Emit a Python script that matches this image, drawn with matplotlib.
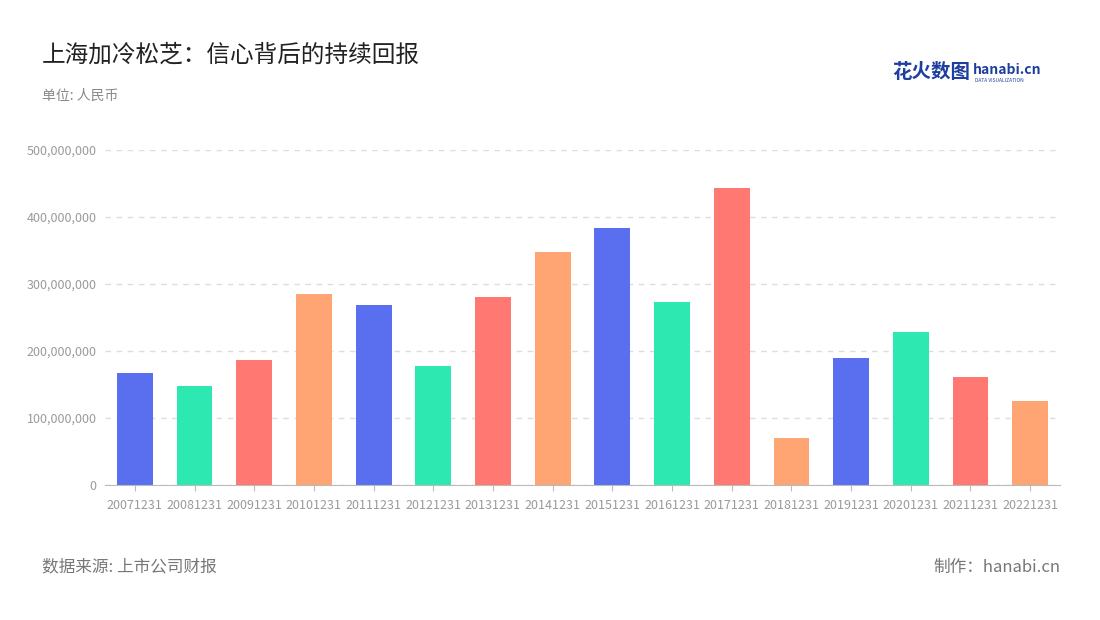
import matplotlib
matplotlib.use("Agg")
import matplotlib.pyplot as plt
from matplotlib.ticker import FuncFormatter

plt.rcParams["font.family"] = "Noto Sans CJK SC"

years = ["20071231","20081231","20091231","20101231","20111231","20121231","20131231","20141231",
         "20151231","20161231","20171231","20181231","20191231","20201231","20211231","20221231"]
values = [167e6,148e6,187e6,285e6,269e6,178e6,281e6,348e6,384e6,273e6,443e6,70e6,190e6,228e6,161e6,125e6]
palette = ["#5a6ff0", "#2ee8b2", "#ff7872", "#ffa473"]

fig = plt.figure(figsize=(11, 6.2), dpi=100)
ax = fig.add_axes([105/1100, 1-485/620, 955/1100, 335/620])
colors = [palette[i % 4] for i in range(len(values))]
ax.bar(range(len(values)), values, width=0.6, color=colors)
ax.set_xlim(-0.5, len(values)-0.5)
ax.set_ylim(0, 500e6)
ax.set_yticks([0,100e6,200e6,300e6,400e6,500e6])
ax.yaxis.set_major_formatter(FuncFormatter(lambda v, p: f"{int(v):,}"))
ax.set_xticks(range(len(values)))
ax.set_xticklabels(years)
ax.tick_params(axis="both", labelsize=9, colors="#9a9a9a", length=0, pad=6)
ax.tick_params(axis="x", length=4, color="#bbbbbb")
ax.grid(axis="y", color="#dddddd", linestyle=(0,(4,4)), linewidth=1)
ax.set_axisbelow(True)
for s in ["top","right","left"]:
    ax.spines[s].set_visible(False)
ax.spines["bottom"].set_color("#bbbbbb")

fig.text(42/1100, 1-55/620, "上海加冷松芝：信心背后的持续回报", fontsize=17, color="#222222", va="center")
fig.text(42/1100, 1-96/620, "单位: 人民币", fontsize=10, color="#888888", va="center")
fig.text(42/1100, 1-567/620, "数据来源: 上市公司财报", fontsize=12, color="#777777", va="center")
fig.text(1060/1100, 1-567/620, "制作：hanabi.cn", fontsize=12, color="#777777", va="center", ha="right")
fig.text(892/1100, 1-73/620, "花火数图", fontsize=14, color="#1f3f9f", va="center", fontweight="bold")
fig.text(973/1100, 1-70/620, "hanabi.cn", fontsize=10, color="#1f3f9f", va="center", fontweight="bold")
fig.text(975/1100, 1-81/620, "DATA VISUALIZATION", fontsize=3.5, color="#1f3f9f", va="center")

fig.savefig("out.png", dpi=100)
